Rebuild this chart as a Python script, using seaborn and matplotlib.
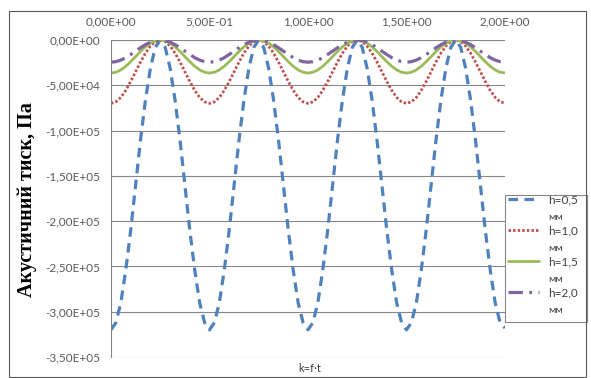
import matplotlib
matplotlib.use("Agg")
import matplotlib.pyplot as plt
import seaborn as sns
import numpy as np
import pandas as pd
from matplotlib.ticker import FixedLocator, FuncFormatter
from matplotlib.patches import Rectangle

# ---- data ----
k = [0.000, 0.025, 0.050, 0.075, 0.100, 0.125, 0.150, 0.175, 0.200, 0.225,
     0.250, 0.275, 0.300, 0.325, 0.350, 0.375, 0.400, 0.425, 0.450, 0.475,
     0.500, 0.525, 0.550, 0.575, 0.600, 0.625, 0.650, 0.675, 0.700, 0.725,
     0.750, 0.775, 0.800, 0.825, 0.850, 0.875, 0.900, 0.925, 0.950, 0.975,
     1.000, 1.025, 1.050, 1.075, 1.100, 1.125, 1.150, 1.175, 1.200, 1.225,
     1.250, 1.275, 1.300, 1.325, 1.350, 1.375, 1.400, 1.425, 1.450, 1.475,
     1.500, 1.525, 1.550, 1.575, 1.600, 1.625, 1.650, 1.675, 1.700, 1.725,
     1.750, 1.775, 1.800, 1.825, 1.850, 1.875, 1.900, 1.925, 1.950, 1.975,
     2.000]

p_h05 = [-320000, -312000, -290000, -254000, -210000, -160000, -110000, -66000, -31000, -8000,
         0, -8000, -31000, -66000, -110000, -160000, -210000, -254000, -290000, -312000,
         -320000, -312000, -290000, -254000, -210000, -160000, -110000, -66000, -31000, -8000,
         0, -8000, -31000, -66000, -110000, -160000, -210000, -254000, -290000, -312000,
         -320000, -312000, -290000, -254000, -210000, -160000, -110000, -66000, -31000, -8000,
         0, -8000, -31000, -66000, -110000, -160000, -210000, -254000, -290000, -312000,
         -320000, -312000, -290000, -254000, -210000, -160000, -110000, -66000, -31000, -8000,
         0, -8000, -31000, -66000, -110000, -160000, -210000, -254000, -290000, -312000,
         -318000]

p_h10 = [-70000, -68300, -63400, -55600, -45800, -35000, -24200, -14400, -6700, -1700,
         0, -1700, -6700, -14400, -24200, -35000, -45800, -55600, -63400, -68300,
         -70000, -68300, -63400, -55600, -45800, -35000, -24200, -14400, -6700, -1700,
         0, -1700, -6700, -14400, -24200, -35000, -45800, -55600, -63400, -68300,
         -70000, -68300, -63400, -55600, -45800, -35000, -24200, -14400, -6700, -1700,
         0, -1700, -6700, -14400, -24200, -35000, -45800, -55600, -63400, -68300,
         -70000, -68300, -63400, -55600, -45800, -35000, -24200, -14400, -6700, -1700,
         0, -1700, -6700, -14400, -24200, -35000, -45800, -55600, -63400, -68300,
         -69500]

p_h15 = [-36500, -35600, -33000, -29000, -23900, -18300, -12600, -7500, -3500, -900,
         0, -900, -3500, -7500, -12600, -18300, -23900, -29000, -33000, -35600,
         -36500, -35600, -33000, -29000, -23900, -18300, -12600, -7500, -3500, -900,
         0, -900, -3500, -7500, -12600, -18300, -23900, -29000, -33000, -35600,
         -36500, -35600, -33000, -29000, -23900, -18300, -12600, -7500, -3500, -900,
         0, -900, -3500, -7500, -12600, -18300, -23900, -29000, -33000, -35600,
         -36500, -35600, -33000, -29000, -23900, -18300, -12600, -7500, -3500, -900,
         0, -900, -3500, -7500, -12600, -18300, -23900, -29000, -33000, -35600,
         -36300]

p_h20 = [-24500, -23900, -22200, -19500, -16000, -12300, -8500, -5100, -2400, -600,
         0, -600, -2400, -5100, -8500, -12300, -16000, -19500, -22200, -23900,
         -24500, -23900, -22200, -19500, -16000, -12300, -8500, -5100, -2400, -600,
         0, -600, -2400, -5100, -8500, -12300, -16000, -19500, -22200, -23900,
         -24500, -23900, -22200, -19500, -16000, -12300, -8500, -5100, -2400, -600,
         0, -600, -2400, -5100, -8500, -12300, -16000, -19500, -22200, -23900,
         -24500, -23900, -22200, -19500, -16000, -12300, -8500, -5100, -2400, -600,
         0, -600, -2400, -5100, -8500, -12300, -16000, -19500, -22200, -23900,
         -24300]

series_labels = ["h=0,5", "h=1,0", "h=1,5", "h=2,0"]
unit_label = "мм"
x_ticks = [0.0, 0.5, 1.0, 1.5, 2.0]
y_ticks = [0, -50000, -100000, -150000, -200000, -250000, -300000, -350000]
y_title = "Акустичний тиск, Па"
x_title = "k=f·t"

# ---- style ----
sns.set_theme(style="white")
plt.rcParams["font.family"] = ["Lato", "DejaVu Sans"]

colors = ["#4F81BD", "#C0504D", "#9BBB59", "#8064A2"]
widths = [2.3, 2.0, 2.0, 2.3]
dash_specs = [(3.0, 2.0), (0.9, 0.75), None, (4.5, 2.0, 0.9, 2.0)]

W, H = 591, 378
fig = plt.figure(figsize=(W / 100, H / 100), dpi=100)
fig.patch.set_facecolor("white")
ax = fig.add_axes([111 / W, 1 - 357 / H, (505 - 111) / W, (357 - 40) / H])

all_series = [p_h05, p_h10, p_h15, p_h20]
handles = []
for vals, lab, c, lw, ds in zip(all_series, series_labels, colors, widths, dash_specs):
    sns.lineplot(x=k, y=vals, ax=ax, color=c, linewidth=lw, label=lab, legend=False)
    ln = ax.lines[-1]
    if ds is not None:
        ln.set_dashes(ds)
        ln.set_dash_capstyle("butt")
    handles.append(ln)

ax.set_xlim(0, 2)
ax.set_ylim(-350000, 0)

grid_c = "#868686"
ax.xaxis.set_major_locator(FixedLocator(x_ticks))
ax.yaxis.set_major_locator(FixedLocator(y_ticks))
fmt = FuncFormatter(lambda v, pos: f"{v:.2E}".replace(".", ","))
ax.xaxis.set_major_formatter(fmt)
ax.yaxis.set_major_formatter(fmt)
ax.xaxis.tick_top()
ax.tick_params(axis="x", length=0, pad=9, labelsize=8.5, labelcolor="#595959")
ax.tick_params(axis="y", length=0, pad=8, labelsize=8.5, labelcolor="#595959")
ax.grid(axis="y", color=grid_c, linewidth=0.8)
ax.grid(axis="x", visible=False)
for s in ["top", "right", "bottom"]:
    ax.spines[s].set_visible(False)
ax.spines["left"].set_color(grid_c)
ax.spines["left"].set_linewidth(0.8)
ax.set_xlabel("")
ax.set_ylabel("")

fig.text(27 / W, 1 - 200 / H, y_title, rotation=90, ha="center", va="center",
         fontsize=14.5, fontweight="bold", family=["Liberation Serif", "DejaVu Serif"],
         color="black")
fig.text(310 / W, 1 - 369 / H, x_title, ha="center", va="center",
         fontsize=8, color="#404040")

leg = ax.legend(handles=handles, labels=series_labels, loc="upper left",
                bbox_to_anchor=(508 / W, 1 - 194 / H), bbox_transform=fig.transFigure,
                frameon=False, fontsize=8.5, handlelength=2.6, handletextpad=0.8,
                labelspacing=1.7, borderpad=0.0, borderaxespad=0.0)
for t in leg.get_texts():
    t.set_color("#404040")

fig.add_artist(Rectangle((505 / W, 1 - 322 / H), (587 - 505) / W, (322 - 195) / H,
                         transform=fig.transFigure, fill=False,
                         edgecolor="#868686", linewidth=0.8))
fig.add_artist(Rectangle((9 / W, 1 - 377 / H), (586 - 9) / W, (377 - 11) / H,
                         transform=fig.transFigure, fill=False,
                         edgecolor="#595959", linewidth=0.8))

fig.canvas.draw()
for t in leg.get_texts():
    bb = t.get_window_extent()
    cy = (bb.y0 + bb.y1) / 2
    fig.text(bb.x0 / W, (cy - 18) / H, unit_label, ha="left", va="center",
             fontsize=7.5, color="#404040")

fig.savefig("out.png", dpi=100)
